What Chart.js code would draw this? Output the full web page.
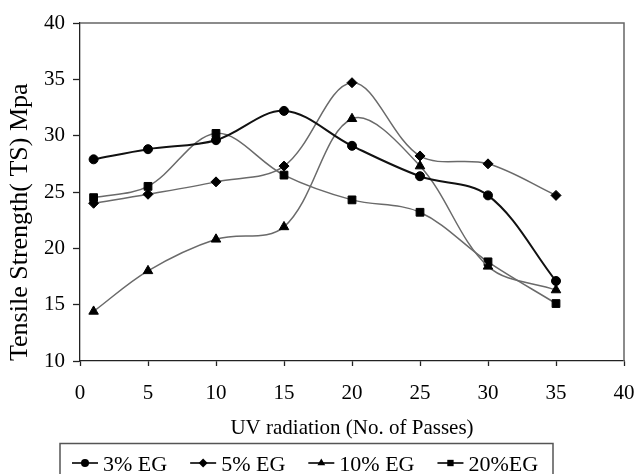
<!DOCTYPE html>
<html><head><meta charset="utf-8">
<script src="https://cdn.jsdelivr.net/npm/chart.js@4.4.0/dist/chart.umd.min.js"></script>
<style>html,body{margin:0;padding:0;background:#fff}</style>
</head><body>
<canvas id="c" width="636" height="474" style="display:block;width:636px;height:474px"></canvas>
<script>
const passes = [1, 5, 10, 15, 20, 25, 30, 35];
const eg3  = [27.9, 28.8, 29.6, 32.2, 29.1, 26.4, 24.7, 17.1];
const eg5  = [24.0, 24.8, 25.9, 27.3, 34.7, 28.2, 27.5, 24.7];
const eg10 = [14.4, 18.0, 20.8, 21.9, 31.5, 27.3, 18.4, 16.3];
const eg20 = [24.5, 25.5, 30.2, 26.5, 24.3, 23.2, 18.8, 15.1];
const seriesLabels = ['3% EG', '5% EG', '10% EG', '20%EG'];
const xTickValues = [0, 5, 10, 15, 20, 25, 30, 35, 40];
const yTickValues = [10, 15, 20, 25, 30, 35, 40];

const FONT = '"Liberation Serif", "Times New Roman", serif';
const pts = arr => passes.map((x, i) => ({x: x, y: arr[i]}));

function mkDs(label, arr, style, radius, color, width) {
  return {
    label: label, data: pts(arr),
    borderColor: color, borderWidth: width,
    pointStyle: style, pointRadius: radius, pointHoverRadius: radius,
    pointBackgroundColor: '#000', pointBorderColor: '#000', pointBorderWidth: 1,
    tension: 0.35, fill: false
  };
}

const datasets = [
  mkDs(seriesLabels[0], eg3, 'circle', 4.5, '#111', 2),
  mkDs(seriesLabels[1], eg5, 'rectRot', 5, '#6a6a6a', 1.5),
  mkDs(seriesLabels[2], eg10, 'triangle', 5.5, '#6a6a6a', 1.5),
  mkDs(seriesLabels[3], eg20, 'rect', 5.5, '#6a6a6a', 1.5)
];

function drawMarker(ctx, style, r, x, y) {
  ctx.beginPath();
  if (style === 'circle') { ctx.arc(x, y, r, 0, Math.PI * 2); }
  else if (style === 'rectRot') { ctx.moveTo(x - r, y); ctx.lineTo(x, y - r); ctx.lineTo(x + r, y); ctx.lineTo(x, y + r); ctx.closePath(); }
  else if (style === 'triangle') {
    ctx.moveTo(x, y - r); ctx.lineTo(x + r * 0.866, y + r * 0.5); ctx.lineTo(x - r * 0.866, y + r * 0.5); ctx.closePath();
  } else { const s = r * Math.SQRT1_2; ctx.rect(x - s, y - s, 2 * s, 2 * s); }
  ctx.fill();
}

const framePlugin = {
  id: 'frame',
  beforeDatasetsDraw(chart) {
    const a = chart.chartArea, ctx = chart.ctx;
    ctx.save();
    ctx.strokeStyle = '#666'; ctx.lineWidth = 1.5;
    ctx.beginPath();
    ctx.moveTo(a.left, a.top); ctx.lineTo(a.right, a.top); ctx.lineTo(a.right, a.bottom);
    ctx.stroke();
    ctx.restore();
  },
  afterDraw(chart) {
    const ctx = chart.ctx;
    ctx.save();
    ctx.font = '22px ' + FONT;
    ctx.textBaseline = 'alphabetic';
    ctx.fillStyle = '#000';
    ctx.strokeStyle = '#555'; ctx.lineWidth = 1.5;
    ctx.strokeRect(60, 443.5, 493, 40);
    let x = 72; const y = 463;
    chart.data.datasets.forEach(ds => {
      ctx.strokeStyle = '#000'; ctx.lineWidth = 1.6;
      ctx.beginPath(); ctx.moveTo(x, y); ctx.lineTo(x + 26, y); ctx.stroke();
      drawMarker(ctx, ds.pointStyle, ds.pointStyle === 'circle' ? 4 : 4.5, x + 13, y);
      ctx.fillText(ds.label, x + 31, y + 8);
      x += 31 + ctx.measureText(ds.label).width + 23;
    });
    ctx.restore();
  }
};

new Chart(document.getElementById('c'), {
  type: 'line',
  data: { datasets: datasets },
  plugins: [framePlugin],
  options: {
    responsive: false, animation: false,
    layout: { padding: { top: 23, right: 0, bottom: 31, left: 0 } },
    plugins: { legend: { display: false }, tooltip: { enabled: false } },
    scales: {
      x: {
        type: 'linear', min: 0, max: 40,
        afterBuildTicks: s => { s.ticks = xTickValues.map(v => ({value: v})); },
        afterFit: s => { s.height = 82; s.paddingRight = 12; s.paddingLeft = 0; },
        ticks: { color: '#000', font: { family: FONT, size: 21 }, padding: 15, maxRotation: 0 },
        grid: { drawOnChartArea: false, drawTicks: true, tickLength: 5, tickColor: '#222', tickWidth: 1.3 },
        border: { display: true, color: '#222', width: 1.3 },
        title: { display: true, text: 'UV radiation (No. of Passes)', color: '#000',
                 font: { family: FONT, size: 21 }, padding: { top: 0, bottom: 2 } }
      },
      y: {
        type: 'linear', min: 10, max: 40,
        afterBuildTicks: s => { s.ticks = yTickValues.map(v => ({value: v})); },
        afterFit: s => { s.width = 80; },
        ticks: { color: '#000', font: { family: FONT, size: 21 }, padding: 8 },
        grid: { drawOnChartArea: false, drawTicks: true, tickLength: 7, tickColor: '#222', tickWidth: 1.3 },
        border: { display: true, color: '#222', width: 1.3 },
        title: { display: true, text: 'Tensile Strength( TS) Mpa', color: '#000', align: 'start',
                 font: { family: FONT, size: 26 }, padding: { top: 5, bottom: 0 } }
      }
    }
  }
});
</script>
</body></html>
